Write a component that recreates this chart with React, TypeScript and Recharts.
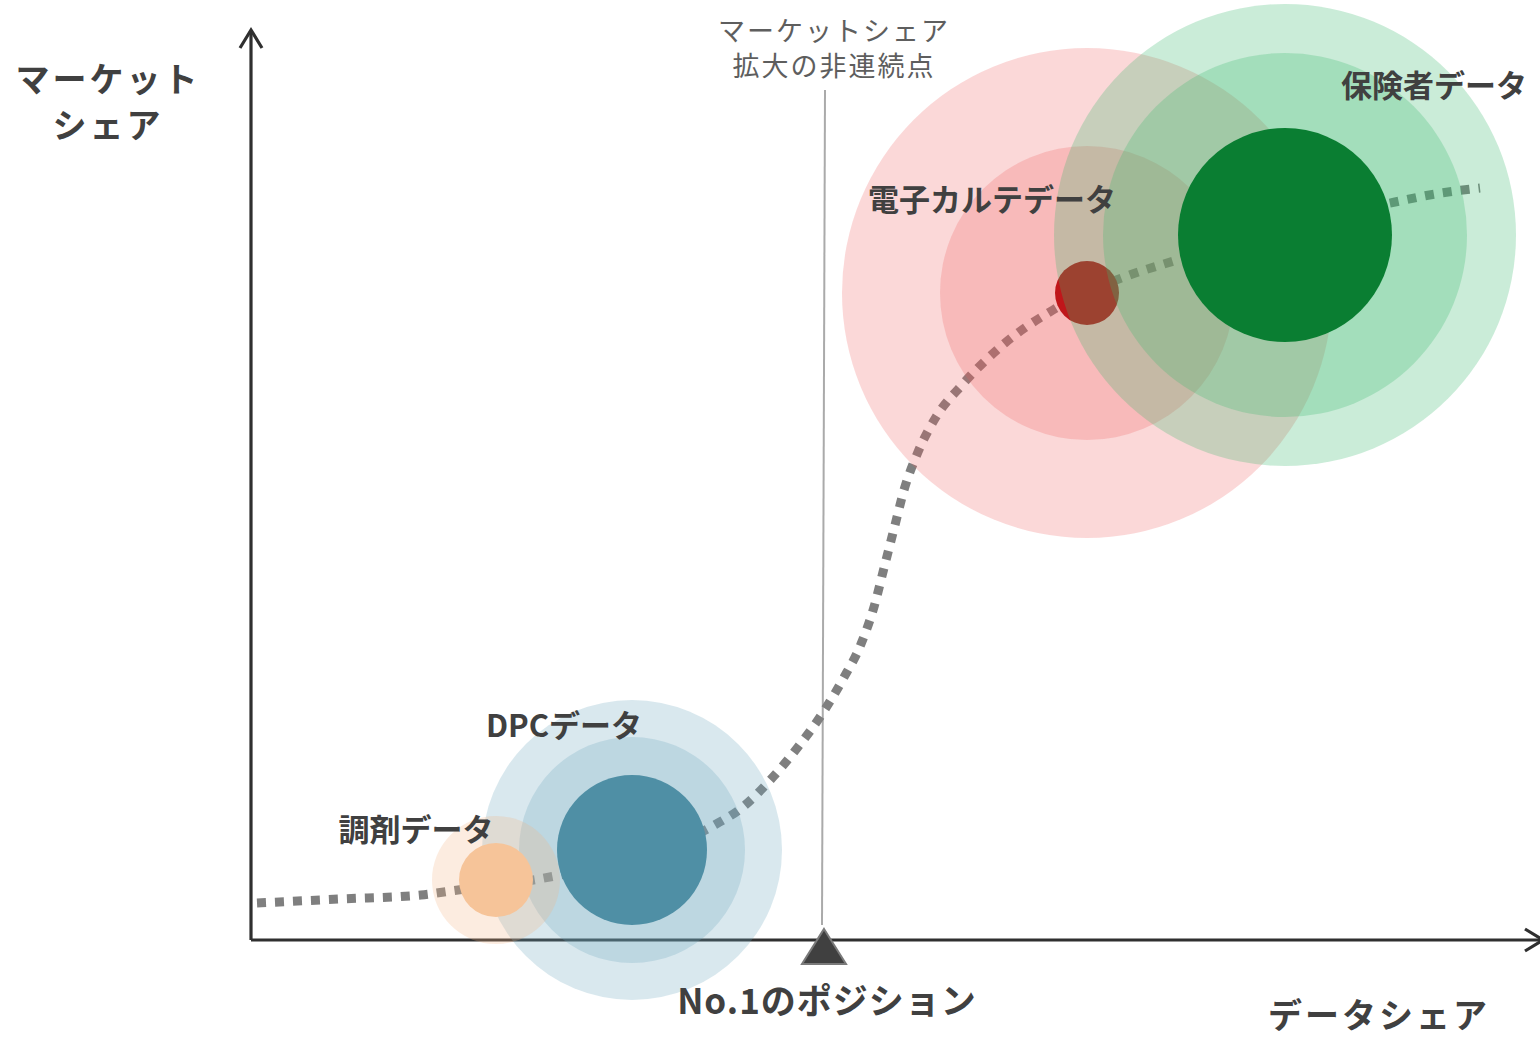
import { ComposedChart, XAxis, YAxis, Line, Scatter, ReferenceLine } from "recharts";

// x = data share, y = market share, both measured from the axes origin
const sourceNames = ["DPCデータ", "調剤データ", "電子カルテデータ", "保険者データ"];
const sourceShare = [381, 245, 836, 1034];
const sourceMarket = [90, 60, 647, 705];
const coreSize = [75, 37, 32, 107];
const reachSize = [[150, 113], [64], [245, 147], [231, 182]];

// growth path through the data sources
const curveShare = [6, 89, 170, 207, 288, 381, 460, 493, 522, 547, 571, 592, 610, 623, 633, 643, 653, 667, 685, 711, 754, 802, 836, 876, 926, 1034, 1144, 1184, 1229];
const curveMarket = [37, 41, 45, 50, 61, 83, 113, 134, 163, 193, 226, 261, 296, 333, 372, 411, 450, 488, 523, 555, 597, 630, 648, 664, 680, 712, 738, 746, 752];

// "No.1" position on the data share axis and the discontinuity marker
const leaderShare = 573;
const breakLine = [
  { x: 574, y: 850 },
  { x: 571, y: 15 },
];

const FONT = '"Noto Sans CJK JP", "Noto Sans", sans-serif';
const INK = "#404040";

const styles: Record<string, { core: string; halo: string; haloOpacity: number; dx: number; dy: number }> = {
  "DPCデータ": { core: "#4f8fa5", halo: "rgb(110,165,190)", haloOpacity: 0.26, dx: -68, dy: -127 },
  "調剤データ": { core: "#f6c499", halo: "rgb(245,180,130)", haloOpacity: 0.25, dx: -80, dy: -53 },
  "電子カルテデータ": { core: "#c0161a", halo: "rgb(240,90,90)", haloOpacity: 0.24, dx: -95, dy: -96 },
  "保険者データ": { core: "#0a7e32", halo: "rgb(60,185,110)", haloOpacity: 0.27, dx: 149, dy: -152 },
};

const curve = curveShare.map((x, i) => ({ x, y: curveMarket[i] }));
const sources = sourceNames.map((name, i) => ({
  name,
  x: sourceShare[i],
  y: sourceMarket[i],
  core: coreSize[i],
  reach: reachSize[i],
}));

function Bubble(props: any) {
  const { cx, cy, payload } = props;
  const s = styles[payload.name];
  return (
    <g>
      {payload.reach.map((r: number, i: number) => (
        <circle key={i} cx={cx} cy={cy} r={r} fill={s.halo} fillOpacity={s.haloOpacity} />
      ))}
      <circle cx={cx} cy={cy} r={payload.core} fill={s.core} />
    </g>
  );
}

function BubbleLabel(props: any) {
  const { cx, cy, payload } = props;
  const s = styles[payload.name];
  return (
    <text
      x={cx + s.dx}
      y={cy + s.dy}
      textAnchor="middle"
      dominantBaseline="central"
      fontFamily={FONT}
      fontWeight={700}
      fontSize={31}
      fill={INK}
    >
      {payload.name}
    </text>
  );
}

function Arrow(props: any) {
  const { x1, y1, x2, y2 } = props;
  const len = Math.hypot(x2 - x1, y2 - y1) || 1;
  const ux = (x2 - x1) / len;
  const uy = (y2 - y1) / len;
  const back = 18;
  const side = 11;
  const ax = x2 - ux * back;
  const ay = y2 - uy * back;
  return (
    <g stroke="#2f2f2f" strokeWidth={3.2} fill="none">
      <line x1={x1} y1={y1} x2={x2 - ux * 1.5} y2={y2 - uy * 1.5} />
      <polyline points={`${ax - uy * side},${ay + ux * side} ${x2},${y2} ${ax + uy * side},${ay - ux * side}`} />
    </g>
  );
}

function Marker(props: any) {
  const { cx, cy } = props;
  return (
    <polygon
      points={`${cx},${cy - 11} ${cx + 22},${cy + 24} ${cx - 22},${cy + 24}`}
      fill="#404040"
      stroke="#7a7a7a"
      strokeWidth={2}
    />
  );
}

const overlayText = (left: number, top: number, size: number, weight: number, color: string, spacing: number) => ({
  position: "absolute" as const,
  left,
  top,
  transform: "translate(-50%, -50%)",
  fontFamily: FONT,
  fontSize: size,
  fontWeight: weight,
  color,
  letterSpacing: spacing,
  lineHeight: 1,
  whiteSpace: "nowrap" as const,
  textAlign: "center" as const,
});

export default function App() {
  return (
    <div style={{ position: "relative", width: 1540, height: 1037, background: "#fff", overflow: "hidden" }}>
      <style>{`body{margin:0}`}</style>
      <ComposedChart width={1540} height={1037} margin={{ top: 0, right: 0, bottom: 0, left: 0 }}>
        <XAxis type="number" dataKey="x" domain={[-251, 1289]} allowDataOverflow hide />
        <YAxis type="number" dataKey="y" domain={[-97, 940]} allowDataOverflow hide />
        <ReferenceLine segment={[{ x: 0, y: 0 }, { x: 0, y: 910 }]} ifOverflow="visible" shape={Arrow} />
        <ReferenceLine segment={[{ x: 0, y: 0 }, { x: 1292, y: 0 }]} ifOverflow="visible" shape={Arrow} />
        <ReferenceLine segment={breakLine} ifOverflow="visible" stroke="#aaaaaa" strokeWidth={2} />
        <Line
          data={curve}
          dataKey="y"
          type="monotone"
          stroke="#7f7f7f"
          strokeWidth={9}
          strokeDasharray="9 9"
          strokeLinecap="butt"
          dot={false}
          activeDot={false}
          isAnimationActive={false}
        />
        <Scatter data={sources} shape={Bubble} isAnimationActive={false} />
        <Scatter data={[{ x: leaderShare, y: 0 }]} shape={Marker} isAnimationActive={false} />
        <Scatter data={sources} shape={BubbleLabel} isAnimationActive={false} />
      </ComposedChart>

      <div style={{ ...overlayText(108, 101, 34, 700, INK, 3), lineHeight: "46px" }}>
        マーケット
        <br />
        シェア
      </div>
      <div style={overlayText(1379, 1014, 34, 700, INK, 3)}>データシェア</div>
      <div style={overlayText(827, 998, 35, 700, INK, 1)}>No.1のポジション</div>
      <div style={{ ...overlayText(834, 47, 27, 400, "#5e5e5e", 2), lineHeight: "35px" }}>
        マーケットシェア
        <br />
        拡大の非連続点
      </div>
    </div>
  );
}
